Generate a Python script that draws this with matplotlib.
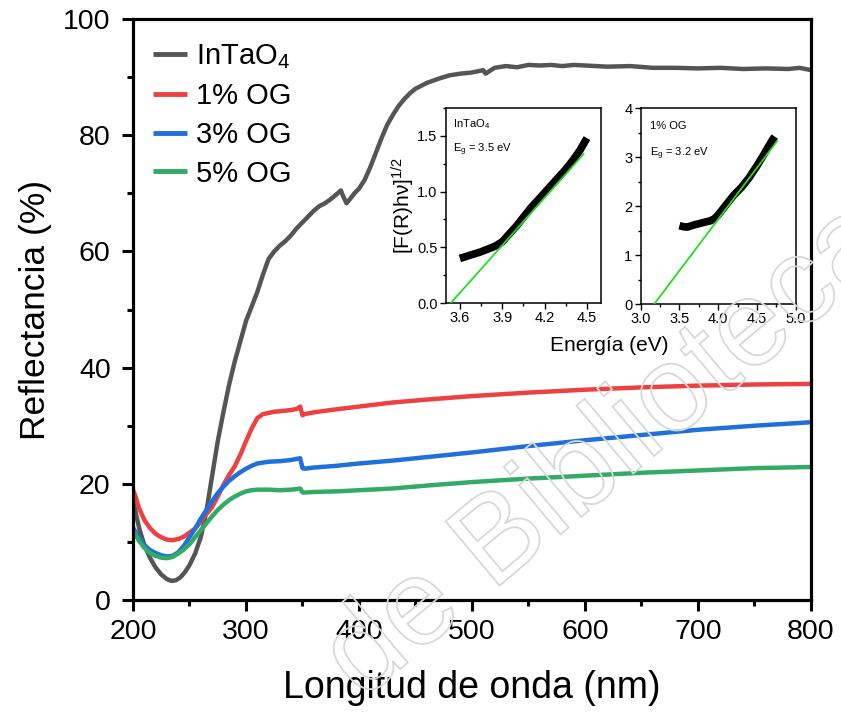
import numpy as np
import matplotlib
matplotlib.use('Agg')
import matplotlib.pyplot as plt
from matplotlib.ticker import MultipleLocator
from matplotlib.textpath import TextPath
from matplotlib.patches import PathPatch
from matplotlib.font_manager import FontProperties
import matplotlib.transforms as mtransforms

plt.rcParams['font.family'] = ['Liberation Sans', 'DejaVu Sans']
plt.rcParams['mathtext.fontset'] = 'custom'
plt.rcParams['mathtext.rm'] = 'Liberation Sans'
plt.rcParams['mathtext.it'] = 'Liberation Sans:italic'
plt.rcParams['mathtext.default'] = 'regular'

# main reflectance data
nm_intao4 = [200, 203, 206, 210, 215, 220, 225, 230, 234, 238, 242, 246, 250, 255, 260, 265,
             270, 275, 280, 285, 290, 295, 300, 305, 310, 315, 320, 325, 330, 335, 340, 345,
             350, 355, 360, 365, 370, 375, 380, 384, 386, 389, 392, 396, 400, 405, 410, 415,
             420, 425, 430, 435, 440, 445, 450, 460, 470, 480, 490, 500, 510, 512, 520, 530,
             540, 550, 560, 570, 580, 590, 600, 620, 640, 660, 680, 700, 720, 740, 760, 780,
             790, 800]
r_intao4 = [17.5, 14.5, 12.0, 9.5, 7.3, 5.6, 4.4, 3.6, 3.3, 3.4, 3.9, 4.8, 6.0, 8.0, 10.8, 15.3,
            21.3, 27.3, 32.3, 37.0, 41.0, 44.5, 48.0, 50.5, 53.0, 56.0, 58.7, 60.0, 61.0, 61.8, 62.8, 64.0,
            65.0, 66.0, 67.0, 67.8, 68.3, 69.0, 69.8, 70.5, 69.5, 68.3, 69.0, 70.0, 70.8, 72.3, 74.5, 77.0,
            79.5, 81.8, 83.5, 85.0, 86.2, 87.2, 88.0, 89.0, 89.7, 90.3, 90.6, 90.8, 91.2, 90.6, 91.6, 91.9,
            91.7, 92.1, 92.0, 92.1, 91.9, 92.1, 92.0, 91.8, 91.9, 91.6, 91.6, 91.5, 91.6, 91.4, 91.5, 91.4,
            91.6, 91.2]

nm_1og = [200, 202, 205, 210, 215, 220, 225, 230, 235, 240, 245, 250, 255, 260, 265, 270, 275,
          280, 285, 290, 295, 300, 305, 310, 315, 320, 325, 330, 340, 345, 348, 350, 352, 360,
          375, 400, 430, 460, 500, 550, 600, 650, 700, 750, 800]
r_1og = [19.0, 18.0, 16.0, 13.8, 12.4, 11.4, 10.8, 10.4, 10.3, 10.5, 10.9, 11.6, 12.3, 13.5, 14.8, 16.0, 17.8,
         19.8, 21.5, 23.0, 25.0, 27.3, 29.5, 31.3, 32.0, 32.2, 32.4, 32.5, 32.7, 32.9, 33.3, 31.8, 32.0, 32.3,
         32.7, 33.3, 34.0, 34.5, 35.1, 35.7, 36.2, 36.6, 36.9, 37.1, 37.2]

nm_3og = [200, 205, 210, 215, 220, 225, 230, 235, 240, 245, 250, 255, 260, 265, 270, 275, 280,
          285, 290, 295, 300, 305, 310, 320, 330, 340, 345, 348, 350, 352, 360, 380, 400, 430,
          460, 500, 550, 600, 650, 700, 750, 800]
r_3og = [12.5, 10.8, 9.5, 8.6, 8.1, 7.7, 7.5, 7.6, 8.2, 9.3, 10.8, 12.3, 14.0, 15.5, 17.0, 18.4, 19.5,
         20.5, 21.3, 22.0, 22.6, 23.1, 23.5, 23.8, 23.9, 24.1, 24.3, 24.4, 22.7, 22.6, 22.8, 23.1, 23.5, 24.0,
         24.6, 25.4, 26.5, 27.5, 28.4, 29.3, 30.0, 30.6]

nm_5og = [200, 205, 210, 215, 220, 225, 230, 235, 240, 245, 250, 255, 260, 265, 270, 275, 280,
          285, 290, 295, 300, 305, 310, 320, 330, 340, 345, 348, 350, 352, 360, 380, 400, 430,
          460, 500, 550, 600, 650, 700, 750, 800]
r_5og = [12.0, 10.3, 9.0, 8.1, 7.6, 7.3, 7.2, 7.4, 8.0, 8.7, 9.6, 10.8, 12.0, 13.2, 14.4, 15.5, 16.4,
         17.2, 17.8, 18.3, 18.7, 18.9, 19.0, 19.0, 18.9, 19.0, 19.1, 19.2, 18.5, 18.5, 18.6, 18.7, 18.9, 19.2,
         19.7, 20.3, 20.9, 21.4, 21.9, 22.3, 22.7, 22.9]

labels = ['InTaO$_4$', '1% OG', '3% OG', '5% OG']
colors = ['#555555', '#ee4040', '#1f6fde', '#33aa66']

# tauc insets
e_intao4 = [3.6, 3.65, 3.7, 3.75, 3.8, 3.85, 3.9, 3.95, 4.0, 4.05, 4.1, 4.15, 4.2, 4.25, 4.3, 4.35, 4.4, 4.45, 4.5]
f_intao4 = [0.40, 0.42, 0.44, 0.46, 0.485, 0.51, 0.55, 0.62, 0.69, 0.77, 0.85, 0.92, 0.99, 1.06, 1.13, 1.20, 1.28, 1.37, 1.48]
fit_e_intao4 = [3.536, 4.476]
fit_f_intao4 = [0.0, 1.337]

e_1og = [3.5, 3.55, 3.6, 3.7, 3.8, 3.9, 3.95, 4.0, 4.1, 4.2, 4.3, 4.4, 4.5, 4.6, 4.65, 4.7, 4.73]
f_1og = [1.60, 1.58, 1.57, 1.62, 1.66, 1.70, 1.74, 1.82, 2.02, 2.22, 2.38, 2.58, 2.82, 3.08, 3.22, 3.35, 3.42]
fit_e_1og = [3.175, 4.763]
fit_f_1og = [0.0, 3.33]

fig = plt.figure(figsize=(8.41, 7.15), dpi=100)
ax = fig.add_axes([0.1581, 0.1608, 0.8062, 0.8126])

for x, y, lab, c in zip([nm_intao4, nm_1og, nm_3og, nm_5og],
                        [r_intao4, r_1og, r_3og, r_5og], labels, colors):
    ax.plot(x, y, color=c, lw=3.2, label=lab)

ax.set_xlim(200, 800)
ax.set_ylim(0, 100)
ax.xaxis.set_major_locator(MultipleLocator(100))
ax.xaxis.set_minor_locator(MultipleLocator(50))
ax.yaxis.set_major_locator(MultipleLocator(20))
ax.yaxis.set_minor_locator(MultipleLocator(10))
ax.tick_params(which='major', direction='out', length=8, width=2.2, labelsize=20.5)
ax.tick_params(axis='y', which='major', pad=8)
ax.tick_params(axis='x', which='major', pad=6)
ax.tick_params(which='minor', direction='out', length=4, width=2.2)
for sp in ax.spines.values():
    sp.set_linewidth(2.3)
ax.set_xlabel('Longitud de onda (nm)', fontsize=27, labelpad=18)
ax.set_ylabel('Reflectancia (%)', fontsize=25.5, labelpad=8)

leg = ax.legend(loc='upper left', bbox_to_anchor=(0.0, 0.995), frameon=False, fontsize=21,
                handlelength=1.15, handletextpad=0.3, labelspacing=0.37, borderaxespad=0.3)
for h in leg.get_lines():
    h.set_linewidth(3.5)
    h.set_solid_capstyle('butt')

# insets
ins1 = fig.add_axes([0.530, 0.5762, 0.1847, 0.2727])
ins1.plot(e_intao4, f_intao4, color='black', lw=5.5, solid_capstyle='butt', zorder=2)
ins1.plot(fit_e_intao4, fit_f_intao4, color='#22dd22', lw=1.3, zorder=3)
ins1.set_xlim(3.5, 4.6)
ins1.set_ylim(0, 1.75)
ins1.yaxis.set_major_locator(MultipleLocator(0.5))
ins1.yaxis.set_minor_locator(MultipleLocator(0.25))
ins1.set_xticks([3.6, 3.9, 4.2, 4.5])
ins1.set_xticks([3.75, 4.05, 4.35], minor=True)
ins1.set_ylabel('[F(R)h\u03bd]$^{1/2}$', fontsize=15, labelpad=0)
ins1.text(0.05, 0.955, 'InTaO$_4$', transform=ins1.transAxes, fontsize=8, va='top')
ins1.text(0.05, 0.83, 'E$_g$ = 3.5 eV', transform=ins1.transAxes, fontsize=8, va='top')

ins2 = fig.add_axes([0.7618, 0.5748, 0.1843, 0.274])
ins2.plot(e_1og, f_1og, color='black', lw=5.5, solid_capstyle='butt', zorder=2)
ins2.plot(fit_e_1og, fit_f_1og, color='#22dd22', lw=1.3, zorder=3)
ins2.set_xlim(3.0, 5.0)
ins2.set_ylim(0, 4)
ins2.xaxis.set_major_locator(MultipleLocator(0.5))
ins2.xaxis.set_minor_locator(MultipleLocator(0.25))
ins2.yaxis.set_major_locator(MultipleLocator(1))
ins2.yaxis.set_minor_locator(MultipleLocator(0.5))
ins2.text(0.06, 0.935, '1% OG', transform=ins2.transAxes, fontsize=8, va='top')
ins2.text(0.06, 0.81, 'E$_g$ = 3.2 eV', transform=ins2.transAxes, fontsize=8, va='top')

for a in (ins1, ins2):
    a.tick_params(which='major', direction='out', length=4, width=1, labelsize=10.5, pad=2)
    a.tick_params(which='minor', direction='out', length=2, width=1)
    for sp in a.spines.values():
        sp.set_linewidth(1.1)

fig.text(0.724, 0.517, 'Energía (eV)', fontsize=15, ha='center', va='center')

# faint watermark
fp = FontProperties(family='Liberation Sans')
tp = TextPath((0, 0), 'de Biblioteca', size=122, prop=fp)
tr = mtransforms.Affine2D().rotate_deg(40).translate(362, 14)
wm = PathPatch(tr.transform_path(tp), facecolor='none', edgecolor='#d8d8d8', lw=1.3,
               transform=mtransforms.IdentityTransform(), zorder=10)
fig.add_artist(wm)

fig.savefig('out.png', dpi=100)
